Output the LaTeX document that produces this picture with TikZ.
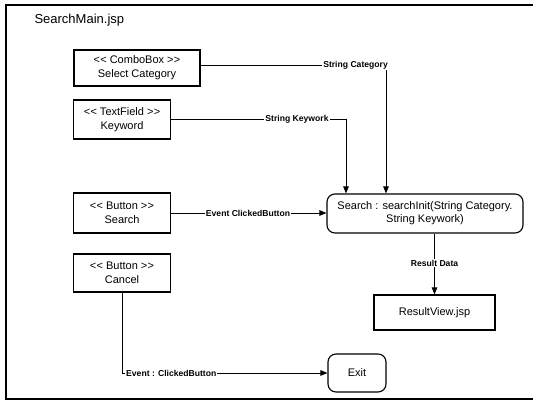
\documentclass[tikz,border=0pt]{standalone}
\usepackage{fontspec}
\setmainfont{Liberation Sans}
\usetikzlibrary{arrows.meta}
\newcommand\dlt{<\kern0.3pt<}
\newcommand\dgt{>\kern0.3pt>}
\begin{document}
\begin{tikzpicture}[x=1pt,y=-1pt,
  box/.style={draw,line width=1.1pt,inner sep=0pt,align=center,font=\fontsize{11}{14}\selectfont},
  rbox/.style={box,rounded corners=8pt},
  lbl/.style={fill=white,inner sep=1pt,font=\bfseries\fontsize{8.6}{10}\selectfont},
  conn/.style={line width=0.9pt},
  arr/.style={conn,-{Triangle[length=7pt,width=5.5pt]}},
  frame/.style={line width=1.4pt}]
\useasboundingbox (0,0) rectangle (536,401);
\draw[frame] (533,5) -- (6,5) -- (6,399) -- (533,399);
\node[anchor=west,font=\fontsize{13}{15}\selectfont] (title) at (31,20) {SearchMain.jsp};

\node[box,minimum width=126pt,minimum height=36pt] (combo) at (137,68) {\dlt{} ComboBox \dgt\\Select Category};
\node[box,minimum width=97pt,minimum height=39pt] (textf) at (122,119.5) {\dlt{} TextField \dgt\\Keyword};
\node[box,minimum width=97pt,minimum height=40pt] (btnsearch) at (122,213) {\dlt{} Button \dgt\\Search};
\node[box,minimum width=97pt,minimum height=38pt] (btncancel) at (122,273) {\dlt{} Button \dgt\\Cancel};
\node[rbox,minimum width=196pt,minimum height=39pt,font=\fontsize{11}{13}\selectfont] (search) at (425,213.5) {Search : searchInit(String Category.\\String Keywork)};
\node[box,minimum width=121pt,minimum height=35pt] (result) at (434.5,312.5) {ResultView.jsp};
\node[rbox,minimum width=58pt,minimum height=38pt] (exit) at (357,373) {Exit};

\coordinate (c1) at (386,65);
\coordinate (c2) at (346,119.5);
\draw[arr] (combo.east |- c1) -- (c1) -- (c1 |- search.north);
\draw[arr] (textf.east) -- (c2) -- (c2 |- search.north);
\draw[arr] (btnsearch.east) -- (btnsearch.east -| search.west);
\draw[arr] (btncancel.south) -- (btncancel.south |- exit.west) -- (exit.west);
\draw[arr] (result.north |- search.south) -- (result.north);

\node[lbl,anchor=east] (lcat) at (389,65) {String Category};
\node[lbl] (lkey) at (297,119.5) {String Keywork};
\node[lbl] (lev) at (248,213) {Event ClickedButton};
\node[lbl,anchor=west] (lcan) at (125,373) {Event : ClickedButton};
\node[lbl] (lres) at (434.5,263) {Result Data};
\end{tikzpicture}
\end{document}
